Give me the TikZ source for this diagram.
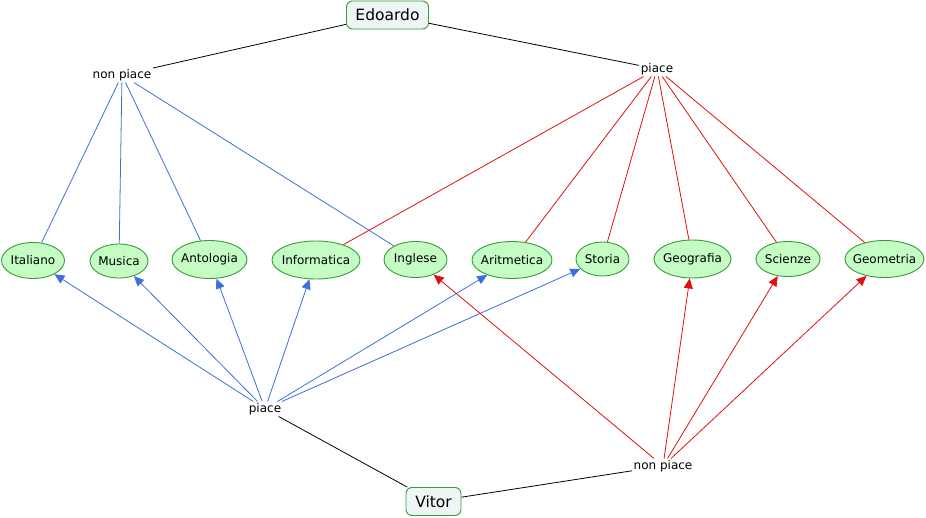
\documentclass[tikz,border=0pt]{standalone}
\usepackage{fontspec}
\setmainfont{DejaVu Sans}
\usetikzlibrary{arrows.meta,shapes.geometric}
\definecolor{nodefill}{HTML}{C4FCC4}
\definecolor{nodeline}{HTML}{3A9A3A}
\definecolor{boxfill}{HTML}{EEF5F5}
\definecolor{blueline}{HTML}{3D6FDD}
\definecolor{redline}{HTML}{E01010}
\begin{document}
\begin{tikzpicture}[x=1pt,y=-1pt,
  topic/.style={ellipse,draw=nodeline,fill=nodefill,line width=0.9pt,inner xsep=-8pt,inner ysep=-3pt,font=\fontsize{12}{14}\selectfont},
  person/.style={draw=nodeline,fill=boxfill,rounded corners=6pt,line width=0.9pt,inner sep=0pt,font=\fontsize{15.5}{18}\selectfont},
  rel/.style={inner sep=1.5pt,font=\fontsize{12}{14}\selectfont},
  bl/.style={blueline,line width=0.8pt},
  rd/.style={redline,line width=0.8pt},
  blk/.style={black,line width=0.8pt},
  blarr/.style={bl,-{Triangle[length=10pt,width=9pt]}},
  rdarr/.style={rd,-{Triangle[length=10pt,width=9pt]}}]
\useasboundingbox (0,0) rectangle (926,518);
\node[person,minimum width=82pt,minimum height=28pt] (edo) at (387.5,15) {Edoardo};
\node[person,minimum width=55pt,minimum height=28pt] (vit) at (433.5,501.5) {Vitor};
\node[rel] (np1) at (122,75) {non piace};
\node[rel] (p1) at (657,69) {piace};
\node[rel] (p2) at (265,409) {piace};
\node[rel] (np2) at (663,466) {non piace};
\node[topic,minimum width=63pt,minimum height=36pt] (ita) at (33,260.5) {Italiano};
\node[topic,minimum width=58pt,minimum height=34pt] (mus) at (119,261) {Musica};
\node[topic,minimum width=75pt,minimum height=38pt] (ant) at (209.5,259.5) {Antologia};
\node[topic,minimum width=88pt,minimum height=38pt] (inf) at (316,260) {Informatica};
\node[topic,minimum width=63pt,minimum height=36pt] (ing) at (415.5,259.5) {Inglese};
\node[topic,minimum width=80pt,minimum height=37pt] (ari) at (512,260) {Aritmetica};
\node[topic,minimum width=53pt,minimum height=34pt] (sto) at (602.5,259) {Storia};
\node[topic,minimum width=77pt,minimum height=38pt] (geo) at (692.5,259) {Geografia};
\node[topic,minimum width=64pt,minimum height=35pt] (sci) at (788,259) {Scienze};
\node[topic,minimum width=79pt,minimum height=37pt] (gem) at (884.5,259) {Geometria};
% black
\draw[blk] (edo) -- (np1);
\draw[blk] (edo) -- (p1);
\draw[blk] (vit) -- (p2);
\draw[blk] (vit) -- (np2);
% non piace top (blue)
\draw[bl] (np1) -- (ita);
\draw[bl] (np1) -- (mus);
\draw[bl] (np1) -- (ant);
\draw[bl] (np1) -- (ing);
% piace top (red)
\draw[rd] (p1) -- (inf);
\draw[rd] (p1) -- (ari);
\draw[rd] (p1) -- (sto);
\draw[rd] (p1) -- (geo);
\draw[rd] (p1) -- (sci);
\draw[rd] (p1) -- (gem);
% piace bottom (blue arrows)
\draw[blarr] (p2) -- (ita);
\draw[blarr] (p2) -- (mus);
\draw[blarr] (p2) -- (ant);
\draw[blarr] (p2) -- (inf);
\draw[blarr] (p2) -- (ari);
\draw[blarr] (p2) -- (sto);
% non piace bottom (red arrows)
\draw[rdarr] (np2) -- (ing);
\draw[rdarr] (np2) -- (geo);
\draw[rdarr] (np2) -- (sci);
\draw[rdarr] (np2) -- (gem);
\end{tikzpicture}
\end{document}
